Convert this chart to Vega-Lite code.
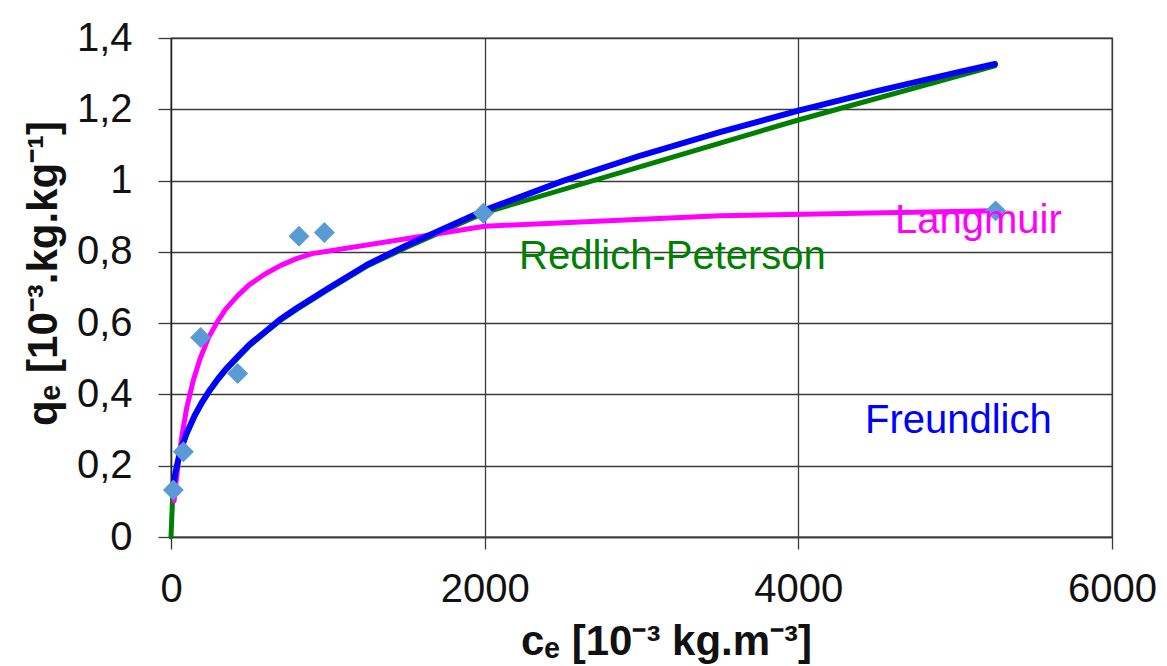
{
  "$schema": "https://vega.github.io/schema/vega-lite/v6.json",
  "width": 941,
  "height": 499,
  "autosize": {"type": "none"},
  "padding": {"left": 171, "top": 38, "right": 55, "bottom": 129},
  "background": "white",
  "config": {
    "font": "Liberation Sans",
    "view": {"stroke": "#3a3a3a", "strokeWidth": 1.3}
  },
  "datasets": {
    "green": [
      {"c": 0, "q": 0}, {"c": 13, "q": 0.14}, {"c": 30, "q": 0.182}, {"c": 50, "q": 0.222},
      {"c": 75, "q": 0.258}, {"c": 100, "q": 0.289}, {"c": 150, "q": 0.337}, {"c": 200, "q": 0.377},
      {"c": 250, "q": 0.411}, {"c": 300, "q": 0.441}, {"c": 350, "q": 0.468}, {"c": 427, "q": 0.503},
      {"c": 500, "q": 0.536}, {"c": 600, "q": 0.573}, {"c": 700, "q": 0.608}, {"c": 800, "q": 0.638},
      {"c": 1000, "q": 0.693}, {"c": 1250, "q": 0.76}, {"c": 1500, "q": 0.812}, {"c": 2000, "q": 0.91},
      {"c": 3000, "q": 1.04}, {"c": 4000, "q": 1.17}, {"c": 5254, "q": 1.322}
    ],
    "pink": [
      {"c": 20, "q": 0.102}, {"c": 30, "q": 0.146}, {"c": 50, "q": 0.22}, {"c": 70, "q": 0.285},
      {"c": 100, "q": 0.362}, {"c": 140, "q": 0.436}, {"c": 185, "q": 0.5}, {"c": 240, "q": 0.56},
      {"c": 300, "q": 0.607}, {"c": 350, "q": 0.64}, {"c": 427, "q": 0.678}, {"c": 500, "q": 0.708},
      {"c": 600, "q": 0.738}, {"c": 700, "q": 0.762}, {"c": 800, "q": 0.781}, {"c": 900, "q": 0.795},
      {"c": 2000, "q": 0.872}, {"c": 3500, "q": 0.901}, {"c": 5254, "q": 0.915}
    ],
    "blue": [
      {"c": 18, "q": 0.152}, {"c": 30, "q": 0.184}, {"c": 50, "q": 0.224}, {"c": 75, "q": 0.261},
      {"c": 100, "q": 0.291}, {"c": 150, "q": 0.34}, {"c": 200, "q": 0.38}, {"c": 250, "q": 0.414},
      {"c": 300, "q": 0.444}, {"c": 350, "q": 0.471}, {"c": 427, "q": 0.507}, {"c": 500, "q": 0.54},
      {"c": 600, "q": 0.576}, {"c": 700, "q": 0.612}, {"c": 800, "q": 0.642}, {"c": 1000, "q": 0.697},
      {"c": 1250, "q": 0.764}, {"c": 1500, "q": 0.818}, {"c": 2000, "q": 0.917}, {"c": 2500, "q": 0.999},
      {"c": 3000, "q": 1.071}, {"c": 3500, "q": 1.136}, {"c": 4000, "q": 1.196}, {"c": 4500, "q": 1.251},
      {"c": 5000, "q": 1.302}, {"c": 5254, "q": 1.327}
    ],
    "measured": [
      {"c": 15, "q": 0.132}, {"c": 79, "q": 0.239}, {"c": 189, "q": 0.56}, {"c": 425, "q": 0.459},
      {"c": 816, "q": 0.844}, {"c": 978, "q": 0.854}, {"c": 1991, "q": 0.908}, {"c": 5258, "q": 0.915}
    ],
    "labels": [
      {"label": "Langmuir", "c": 4616, "q": 0.853},
      {"label": "Redlich-Peterson", "c": 2219, "q": 0.752},
      {"label": "Freundlich", "c": 4425, "q": 0.292}
    ]
  },
  "layer": [
    {
      "data": {"name": "green"},
      "mark": {"type": "line", "color": "#008000", "strokeWidth": 5, "strokeCap": "round", "strokeJoin": "round"},
      "encoding": {
        "x": {
          "field": "c", "type": "quantitative",
          "scale": {"domain": [0, 6000], "nice": false, "zero": false},
          "axis": {
            "values": [0, 2000, 4000, 6000], "format": "d",
            "grid": true, "gridColor": "#3a3a3a", "gridWidth": 1.3,
            "domain": true, "domainColor": "#3a3a3a", "domainWidth": 1.3,
            "ticks": true, "tickSize": 12, "tickColor": "#3a3a3a", "tickWidth": 1.3,
            "labelFontSize": 40, "labelColor": "#111", "labelPadding": 20,
            "labelFlush": false, "labelOverlap": false,
            "title": "cₑ [10⁻³ kg.m⁻³]", "titleFontSize": 42, "titleFontWeight": "bold",
            "titleColor": "#111", "titleX": 495, "titleY": 104, "titleBaseline": "middle", "titleAlign": "center"
          }
        },
        "y": {
          "field": "q", "type": "quantitative",
          "scale": {"domain": [0, 1.4], "nice": false},
          "axis": {
            "values": [0, 0.2, 0.4, 0.6, 0.8, 1, 1.2, 1.4],
            "labelExpr": "replace(format(datum.value, '~g'), '.', ',')",
            "grid": true, "gridColor": "#3a3a3a", "gridWidth": 1.3,
            "domain": true, "domainColor": "#222", "domainWidth": 1.3,
            "ticks": true, "tickSize": 13, "tickColor": "#3a3a3a", "tickWidth": 1.3,
            "labelFontSize": 40, "labelColor": "#111", "labelPadding": 26,
            "labelOverlap": false, "labelFlush": false,
            "title": "qₑ [10⁻³.kg.kg⁻¹]", "titleFontSize": 42, "titleFontWeight": "bold",
            "titleColor": "#111", "titleX": -128, "titleY": 235, "titleAngle": -90,
            "titleBaseline": "middle", "titleAlign": "center"
          }
        }
      }
    },
    {
      "data": {"name": "pink"},
      "mark": {"type": "line", "color": "#FF00FF", "strokeWidth": 5, "strokeCap": "round", "strokeJoin": "round"},
      "encoding": {
        "x": {"field": "c", "type": "quantitative"},
        "y": {"field": "q", "type": "quantitative"}
      }
    },
    {
      "data": {"name": "blue"},
      "mark": {"type": "line", "color": "#0000FF", "strokeWidth": 6, "strokeCap": "round", "strokeJoin": "round"},
      "encoding": {
        "x": {"field": "c", "type": "quantitative"},
        "y": {"field": "q", "type": "quantitative"}
      }
    },
    {
      "data": {"name": "measured"},
      "mark": {"type": "point", "shape": "diamond", "filled": true, "size": 440, "color": "#5B9BD5", "opacity": 1},
      "encoding": {
        "x": {"field": "c", "type": "quantitative"},
        "y": {"field": "q", "type": "quantitative"}
      }
    },
    {
      "data": {"name": "labels"},
      "mark": {"type": "text", "fontSize": 40, "align": "left", "baseline": "alphabetic"},
      "encoding": {
        "x": {"field": "c", "type": "quantitative"},
        "y": {"field": "q", "type": "quantitative"},
        "text": {"field": "label"},
        "color": {
          "field": "label", "type": "nominal",
          "scale": {"domain": ["Langmuir", "Redlich-Peterson", "Freundlich"], "range": ["#FF00FF", "#008000", "#0000FF"]},
          "legend": null
        }
      }
    }
  ]
}
